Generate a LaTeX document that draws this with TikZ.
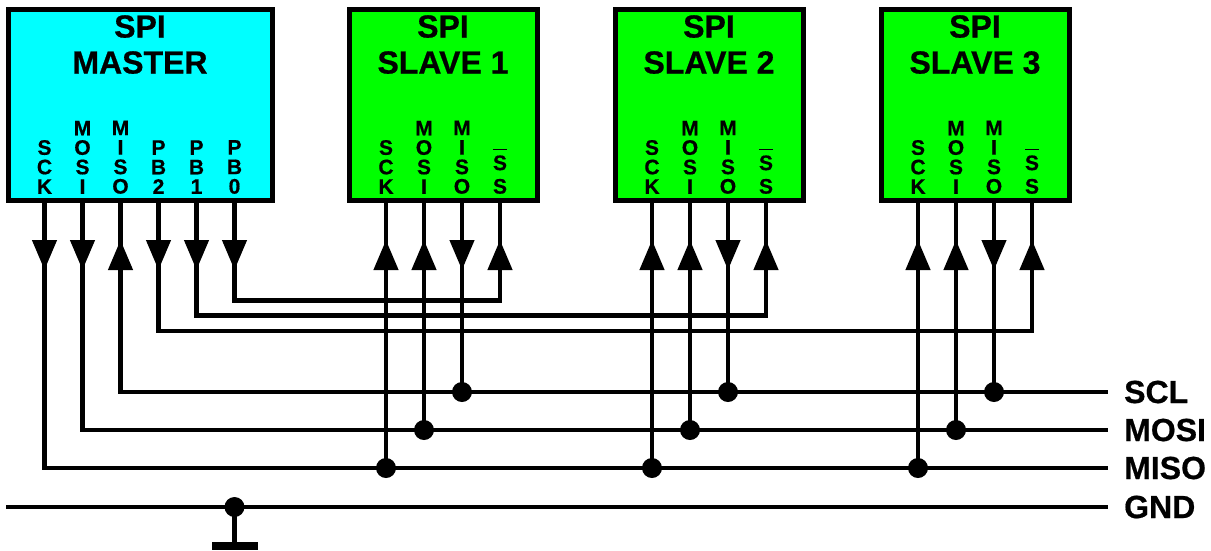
\documentclass[tikz,border=0pt]{standalone}
\usepackage{fontspec}
\setmainfont{Liberation Sans}[BoldFeatures={FakeBold=0.6}]
\usetikzlibrary{arrows.meta,decorations.markings}

\definecolor{masterblue}{RGB}{0,255,255}
\definecolor{slavegreen}{RGB}{0,255,0}

\newcommand{\barS}{\smash{$\overline{\rule{0pt}{20pt}\mbox{S}}$}\\[4pt]S}

\tikzset{
  chip/.style={draw, line width=5pt, anchor=north west, minimum height=191pt, outer sep=0pt},
  title/.style={anchor=north, align=center, inner sep=0pt, font=\fontsize{32}{36}\selectfont\bfseries},
  pinlabel/.style={anchor=south, align=center, inner sep=0pt, font=\fontsize{21}{19.5}\selectfont\bfseries},
  buslabel/.style={anchor=west, inner sep=0pt, inner xsep=16pt, font=\fontsize{32}{36}\selectfont\bfseries},
  wire/.style={line width=4.4pt},
  dot/.style={circle, fill=black, inner sep=0pt, minimum size=20pt},
  downarrow/.style={postaction={decorate}, decoration={markings,
      mark=at position 68pt with {\arrow{Triangle[length=30pt,width=24pt]}}}},
  uparrow/.style={postaction={decorate}, decoration={markings,
      mark=at position 38pt with {\arrowreversed{Triangle[length=30pt,width=24pt]}}}},
}

\begin{document}
\begin{tikzpicture}[x=1pt, y=-1pt]
  \useasboundingbox (0,0) rectangle (1211,550);

  % chips
  \node[chip, fill=masterblue, minimum width=264pt] (master) at (8,9.5) {};
  \node[chip, fill=slavegreen, minimum width=188pt] (slave1) at (349,9.5) {};
  \node[chip, fill=slavegreen, minimum width=188pt] (slave2) at (615,9.5) {};
  \node[chip, fill=slavegreen, minimum width=188pt] (slave3) at (881,9.5) {};

  \node[title] (mastertitle) at (140,15) {SPI\\MASTER};
  \node[title] (slave1title) at (443,15) {SPI\\SLAVE 1};
  \node[title] (slave2title) at (709,15) {SPI\\SLAVE 2};
  \node[title] (slave3title) at (975,15) {SPI\\SLAVE 3};

  % pin labels
  \node[pinlabel] (sck0) at (44.5,194) {S\\C\\K};
  \node[pinlabel] (mosi0) at (82.5,194) {M\\O\\S\\I};
  \node[pinlabel] (miso0) at (120.5,194) {M\\I\\S\\O};
  \node[pinlabel] (pb2) at (158.5,194) {P\\B\\2};
  \node[pinlabel] (pb1) at (196.5,194) {P\\B\\1};
  \node[pinlabel] (pb0) at (234.5,194) {P\\B\\0};

  \node[pinlabel] (sck1) at (386,194) {S\\C\\K};
  \node[pinlabel] (mosi1) at (424,194) {M\\O\\S\\I};
  \node[pinlabel] (miso1) at (462,194) {M\\I\\S\\O};
  \node[pinlabel] (ss1) at (500,194) {\barS};

  \node[pinlabel] (sck2) at (652,194) {S\\C\\K};
  \node[pinlabel] (mosi2) at (690,194) {M\\O\\S\\I};
  \node[pinlabel] (miso2) at (728,194) {M\\I\\S\\O};
  \node[pinlabel] (ss2) at (766,194) {\barS};

  \node[pinlabel] (sck3) at (918,194) {S\\C\\K};
  \node[pinlabel] (mosi3) at (956,194) {M\\O\\S\\I};
  \node[pinlabel] (miso3) at (994,194) {M\\I\\S\\O};
  \node[pinlabel] (ss3) at (1032,194) {\barS};

  % where the wires leave the chips
  \coordinate (sck0out) at (44.5,202);
  \coordinate (mosi0out) at (82.5,202);
  \coordinate (miso0out) at (120.5,202);
  \coordinate (pb2out) at (158.5,202);
  \coordinate (pb1out) at (196.5,202);
  \coordinate (pb0out) at (234.5,202);
  \coordinate (sck1out) at (386,202);
  \coordinate (mosi1out) at (424,202);
  \coordinate (miso1out) at (462,202);
  \coordinate (ss1out) at (500,202);
  \coordinate (sck2out) at (652,202);
  \coordinate (mosi2out) at (690,202);
  \coordinate (miso2out) at (728,202);
  \coordinate (ss2out) at (766,202);
  \coordinate (sck3out) at (918,202);
  \coordinate (mosi3out) at (956,202);
  \coordinate (miso3out) at (994,202);
  \coordinate (ss3out) at (1032,202);

  % buses
  \node[buslabel] (scl) at (1108,392) {SCL};
  \node[buslabel] (mosi) at (1108,430) {MOSI};
  \node[buslabel] (miso) at (1108,468) {MISO};
  \node[buslabel] (gnd) at (1108,507) {GND};
  \coordinate (gndstart) at (6,507);

  \draw[wire, uparrow] (miso0out) |- (scl.west);
  \draw[wire, downarrow] (mosi0out) |- (mosi.west);
  \draw[wire, downarrow] (sck0out) |- (miso.west);
  \draw[wire] (gndstart) -- (gnd.west);

  % junctions
  \node[dot] (dotscl1) at (462,392) {};
  \node[dot] (dotscl2) at (728,392) {};
  \node[dot] (dotscl3) at (994,392) {};
  \node[dot] (dotmosi1) at (424,430) {};
  \node[dot] (dotmosi2) at (690,430) {};
  \node[dot] (dotmosi3) at (956,430) {};
  \node[dot] (dotmiso1) at (386,468) {};
  \node[dot] (dotmiso2) at (652,468) {};
  \node[dot] (dotmiso3) at (918,468) {};
  \node[dot] (dotgnd) at (234.5,507) {};

  \draw[wire, uparrow] (sck1out) -- (dotmiso1.center);
  \draw[wire, uparrow] (mosi1out) -- (dotmosi1.center);
  \draw[wire, downarrow] (miso1out) -- (dotscl1.center);
  \draw[wire, uparrow] (sck2out) -- (dotmiso2.center);
  \draw[wire, uparrow] (mosi2out) -- (dotmosi2.center);
  \draw[wire, downarrow] (miso2out) -- (dotscl2.center);
  \draw[wire, uparrow] (sck3out) -- (dotmiso3.center);
  \draw[wire, uparrow] (mosi3out) -- (dotmosi3.center);
  \draw[wire, downarrow] (miso3out) -- (dotscl3.center);

  % slave selects
  \coordinate (sscorner1) at (500,300.5);
  \coordinate (sscorner2) at (766,315.5);
  \coordinate (sscorner3) at (1032,331);
  \draw[wire, downarrow] (pb0out) |- (sscorner1);
  \draw[wire, downarrow] (pb1out) |- (sscorner2);
  \draw[wire, downarrow] (pb2out) |- (sscorner3);
  \draw[wire, uparrow, line cap=rect] (ss1out) -- (sscorner1);
  \draw[wire, uparrow, line cap=rect] (ss2out) -- (sscorner2);
  \draw[wire, uparrow, line cap=rect] (ss3out) -- (sscorner3);

  % ground
  \node[fill=black, inner sep=0pt, minimum width=46pt, minimum height=8pt] (ground) at (234.5,546) {};
  \draw[wire] (dotgnd.center) -- (ground.north);
\end{tikzpicture}
\end{document}
